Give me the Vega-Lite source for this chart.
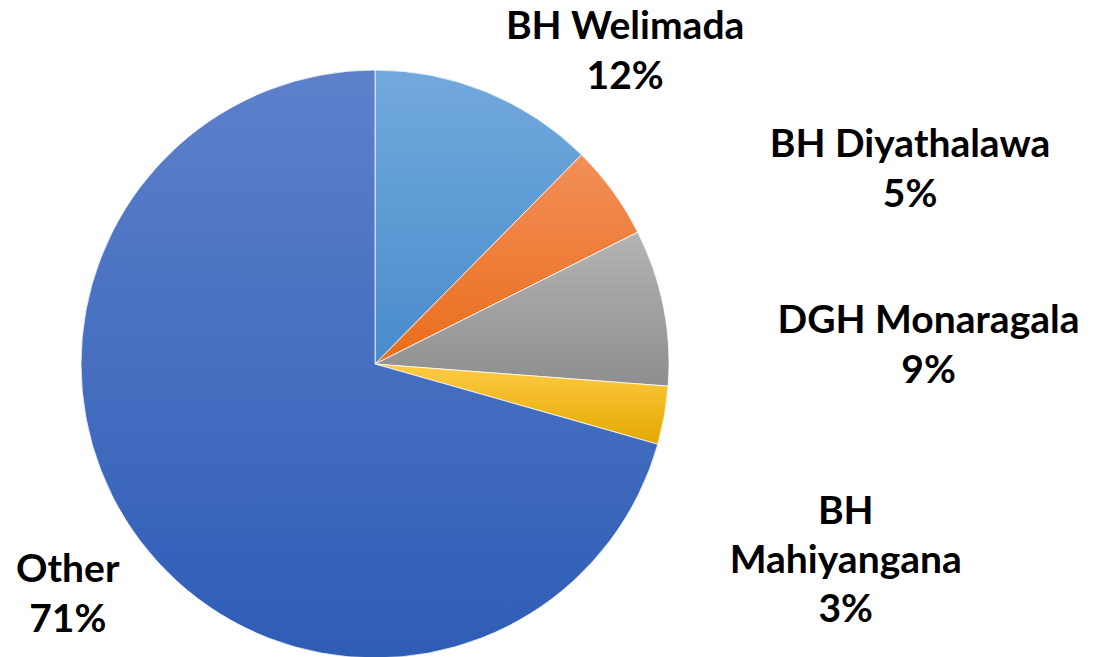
{
  "$schema": "https://vega.github.io/schema/vega-lite/v6.json",
  "width": 750,
  "height": 728,
  "padding": 0,
  "autosize": {"type": "pad"},
  "background": "white",
  "config": {"view": {"stroke": null}},
  "data": {
    "values": [
      {"idx": 1, "name": "BH Welimada", "share": 12.4},
      {"idx": 2, "name": "BH Diyathalawa", "share": 5.2},
      {"idx": 3, "name": "DGH Monaragala", "share": 8.6},
      {"idx": 4, "name": "BH Mahiyangana", "share": 3.2},
      {"idx": 5, "name": "Other", "share": 70.6}
    ]
  },
  "transform": [
    {"calculate": "format(datum.share / 100, '.0%')", "as": "pct"},
    {"calculate": "datum.name === 'BH Mahiyangana' ? ['BH', 'Mahiyangana', datum.pct] : [datum.name, datum.pct]", "as": "lines"}
  ],
  "encoding": {
    "theta": {"field": "share", "type": "quantitative", "stack": true},
    "order": {"field": "idx", "type": "quantitative"}
  },
  "layer": [
    {
      "mark": {"type": "arc", "radius": 294, "stroke": "#ffffff", "strokeWidth": 0.75},
      "encoding": {
        "fill": {
          "condition": [
            {"test": "datum.name === 'BH Welimada'", "value": {"gradient": "linear", "x1": 0, "y1": 0, "x2": 0, "y2": 1, "stops": [{"offset": 0, "color": "#72A9DD"}, {"offset": 1, "color": "#488CCB"}]}},
            {"test": "datum.name === 'BH Diyathalawa'", "value": {"gradient": "linear", "x1": 0, "y1": 0, "x2": 0, "y2": 1, "stops": [{"offset": 0, "color": "#F28F58"}, {"offset": 1, "color": "#EA6D1A"}]}},
            {"test": "datum.name === 'DGH Monaragala'", "value": {"gradient": "linear", "x1": 0, "y1": 0, "x2": 0, "y2": 1, "stops": [{"offset": 0, "color": "#B4B4B4"}, {"offset": 1, "color": "#8E8E8E"}]}},
            {"test": "datum.name === 'BH Mahiyangana'", "value": {"gradient": "linear", "x1": 0, "y1": 0, "x2": 0, "y2": 1, "stops": [{"offset": 0, "color": "#FFCB45"}, {"offset": 1, "color": "#E3A800"}]}}
          ],
          "value": {"gradient": "linear", "x1": 0, "y1": 0, "x2": 0, "y2": 1, "stops": [{"offset": 0, "color": "#5D80CA"}, {"offset": 1, "color": "#2E5DB6"}]}
        }
      }
    },
    {
      "mark": {"type": "text", "radius": 340, "dx": 121, "dy": -22, "font": "Lato", "fontWeight": "bold", "fontSize": 39, "lineHeight": 50, "align": "center", "baseline": "middle", "color": "#000000"},
      "encoding": {"text": {"condition": {"test": "datum.name === 'BH Welimada'", "field": "lines", "type": "nominal"}, "value": ""}}
    },
    {
      "mark": {"type": "text", "radius": 340, "dx": 260, "dy": -19, "font": "Lato", "fontWeight": "bold", "fontSize": 39, "lineHeight": 50, "align": "center", "baseline": "middle", "color": "#000000"},
      "encoding": {"text": {"condition": {"test": "datum.name === 'BH Diyathalawa'", "field": "lines", "type": "nominal"}, "value": ""}}
    },
    {
      "mark": {"type": "text", "radius": 340, "dx": 220, "dy": 23, "font": "Lato", "fontWeight": "bold", "fontSize": 39, "lineHeight": 50, "align": "center", "baseline": "middle", "color": "#000000"},
      "encoding": {"text": {"condition": {"test": "datum.name === 'DGH Monaragala'", "field": "lines", "type": "nominal"}, "value": ""}}
    },
    {
      "mark": {"type": "text", "radius": 340, "dx": 136, "dy": 88, "font": "Lato", "fontWeight": "bold", "fontSize": 39, "lineHeight": 49, "align": "center", "baseline": "middle", "color": "#000000"},
      "encoding": {"text": {"condition": {"test": "datum.name === 'BH Mahiyangana'", "field": "lines", "type": "nominal"}, "value": ""}}
    },
    {
      "mark": {"type": "text", "radius": 340, "dx": -36, "dy": 1, "font": "Lato", "fontWeight": "bold", "fontSize": 39, "lineHeight": 50, "align": "center", "baseline": "middle", "color": "#000000"},
      "encoding": {"text": {"condition": {"test": "datum.name === 'Other'", "field": "lines", "type": "nominal"}, "value": ""}}
    }
  ]
}
